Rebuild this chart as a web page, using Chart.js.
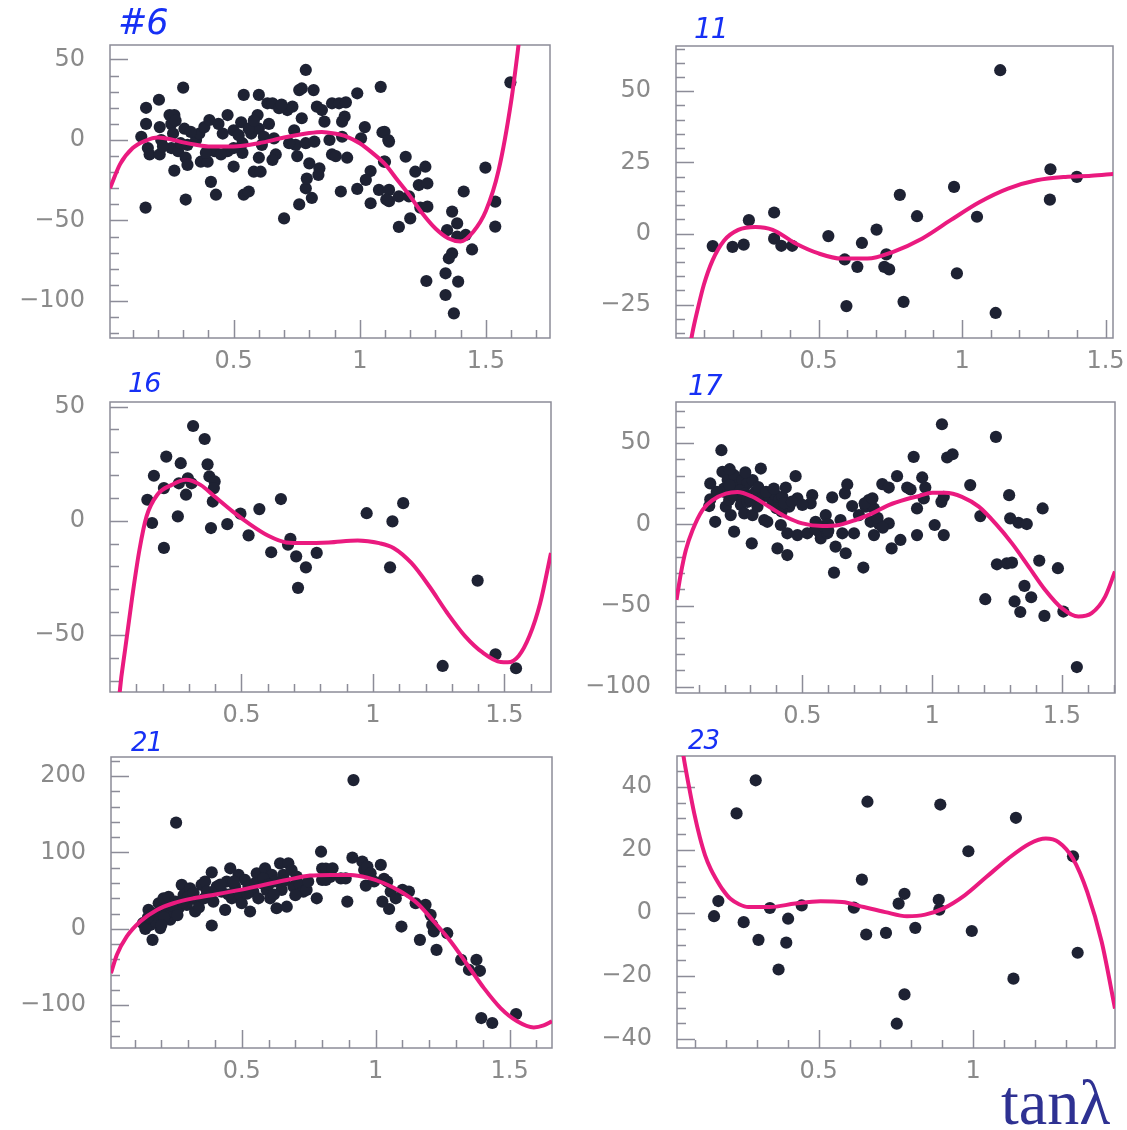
<!DOCTYPE html>
<html><head><meta charset="utf-8">
<script src="https://cdn.jsdelivr.net/npm/chart.js@4.4.1/dist/chart.umd.min.js"></script>
<style>
body{margin:0;background:#fff;width:1127px;height:1130px;position:relative;overflow:hidden;}
canvas{position:absolute;}
.tag{position:absolute;color:#1630f5;font-family:'DejaVu Sans';font-style:italic;line-height:1;letter-spacing:-1px;white-space:nowrap;}
#axisname{position:absolute;left:1001px;top:1071px;font-family:'Liberation Serif';font-size:64px;color:#2e3192;line-height:1;white-space:nowrap;}
</style></head><body>
<div id="wrap"></div>
<div id="axisname">tanλ</div>
<script>
// ---------- Panel #6 ----------
const p1X = [0.134,0.153,0.153,0.151,0.16,0.167,0.204,0.207,0.207,0.213,0.246,0.265,0.253,0.26,0.253,0.265,0.28,0.30,0.305,0.31,0.317,0.31,0.317,0.351,0.364,0.37,0.384,0.397,0.404,0.41,0.43,0.424,0.457,0.476,0.476,0.5,0.5,0.53,0.535,0.54,0.535,0.54,0.56,0.57,0.58,0.6,0.595,0.6,0.6,0.607,0.612,0.634,0.64,0.654,0.667,0.654,0.68,0.7,0.713,0.733,0.74,0.746,0.752,0.76,0.76,0.77,0.786,0.77,0.786,0.786,0.79,0.8,0.81,0.817,0.82,0.83,0.84,0.836,0.85,0.86,0.88,0.89,0.89,0.918,0.945,0.94,0.93,0.93,0.925,0.99,1.083,1.02,1.005,1.09,1.116,1.096,1.043,1.024,0.99,1.043,1.076,1.116,1.116,1.155,1.182,1.195,1.155,1.2,1.22,1.26,1.234,1.268,1.24,1.268,1.264,1.366,1.386,1.346,1.386,1.412,1.42,1.445,1.366,1.353,1.34,1.39,1.34,1.373,1.498,1.537,1.537,1.597,0.22,0.29,0.33,0.45,0.52,0.56,0.62,0.66,0.72,0.5,0.44,0.39,0.27,0.58,0.69,0.905,0.95,1.098,1.113,1.1,1.105];
const p1Y = [2,20,10,-42,-5,-9,25,8,-9,0,15.5,15.5,10,4,-5,-19,-7,32.5,7,-11,-3,-37,-15.5,0,4,-13.5,8,-13.5,12.4,-26,-34,-7,4,15.5,-7,-16.5,6,11,-2,28,-8,-34,-32,4,-19.7,28,15.5,7,-11,-19.7,-3,22.8,10,22.8,-9,-12.4,19.7,-48.7,18.6,20.7,6,-3,-10,-40,31,32,43.5,13.5,-2,-30,-24,-14.5,-36,31,-1,20.7,-17.6,-21.7,18.6,11.4,0,22.8,-9,22.8,23.4,14.5,11.4,2,-32,29,33,8,1,4.8,-1,-13.5,-19.3,-24.8,-30.4,-39.3,-31,-31,-38,-35,-10.4,-35,-54,-48.7,-19.7,-16.6,-28,-27,-42,-41.4,-87.6,-44.5,-51.8,-56,-60,-32,-59,-68,-70.4,-73.5,-82.8,-88,-96.3,-107.7,-17.2,-38.3,-53.8,35.8,-4,-2,5,-9,3,7,2,1,-2,-5,10,-8,12,12,22,-10,-11,5,0,-13.5,-37];
const fit1X = [0.01,0.05,0.1,0.15,0.2,0.25,0.3,0.35,0.4,0.5,0.6,0.7,0.8,0.85,0.9,0.95,1.0,1.05,1.1,1.15,1.2,1.25,1.3,1.35,1.4,1.45,1.5,1.55,1.6,1.63,1.66];
const fit1Y = [-30,-15,-5,-0.5,1.5,0.5,-1.5,-3,-4,-4,-2,1.5,4.3,5,4,2,-2,-8,-15,-25,-35,-46,-55,-61,-63,-57,-44,-19,24,60,100];

// ---------- Panel 11 ----------
const p2X = [0.131,0.2,0.239,0.257,0.345,0.345,0.37,0.408,0.534,0.591,0.597,0.635,0.651,0.702,0.729,0.736,0.746,0.783,0.796,0.843,0.972,0.982,1.052,1.117,1.133,1.306,1.308,1.4];
const p2Y = [-4.4,-4.7,-3.9,4.7,7.4,-1.8,-4.3,-4.3,-0.9,-9.1,-25.5,-11.7,-3.3,1.4,-11.7,-7.3,-12.6,13.6,-24,6.1,16.4,-14,5.9,-27.9,57.4,11.9,22.6,19.9];
const fit2X = [0.04,0.06,0.08,0.1,0.13,0.17,0.22,0.28,0.34,0.42,0.5,0.58,0.67,0.76,0.86,0.96,1.06,1.16,1.26,1.36,1.45,1.53];
const fit2Y = [-47,-35,-26,-18,-9.5,-2.5,1.3,2.3,1.3,-3.5,-7,-8.8,-8.8,-6.4,-1.8,4.7,11,15.8,18.7,19.9,20.3,21];

// ---------- Panel 16 ----------
const p3X = [0.142,0.16,0.167,0.205,0.205,0.214,0.258,0.262,0.269,0.289,0.296,0.31,0.316,0.36,0.371,0.378,0.391,0.384,0.398,0.395,0.446,0.496,0.527,0.568,0.613,0.65,0.677,0.686,0.708,0.715,0.745,0.786,0.976,1.065,1.074,1.115,1.265,1.398,1.466,1.544];
const p3Y = [9.2,-1,19.7,14.3,-11.9,28.1,1.9,16.4,25.2,11.4,18.6,16.4,41.5,35.8,24.7,19.4,8.4,-3.2,17.2,14.3,-1.5,3.1,-6.4,5.1,-13.8,9.5,-10.5,-7.9,-15.6,-29.4,-20.4,-14.1,3.3,-20.4,-0.3,7.7,-63.6,-26.2,-58.5,-64.6];
const fit3X = [0.025,0.037,0.058,0.085,0.112,0.139,0.18,0.235,0.289,0.344,0.398,0.466,0.534,0.602,0.67,0.738,0.833,0.942,1.024,1.078,1.146,1.214,1.282,1.35,1.418,1.486,1.513,1.554,1.595,1.636,1.677];
const fit3Y = [-95,-75,-56,-33,-12.7,1.9,11.4,15.7,17.9,15.7,10.6,4.1,-1.7,-6.6,-9.5,-9.8,-9.5,-8.6,-9.8,-11.9,-18.5,-28.7,-40.3,-50.5,-57.8,-61.9,-62,-59.2,-50.5,-36,-14.1];

// ---------- Panel 17 ----------
const p4X = [0.188,0.145,0.145,0.141,0.164,0.192,0.198,0.212,0.205,0.218,0.224,0.237,0.237,0.25,0.256,0.269,0.263,0.276,0.288,0.288,0.308,0.308,0.305,0.32,0.327,0.34,0.346,0.353,0.365,0.372,0.385,0.397,0.404,0.41,0.417,0.423,0.436,0.442,0.442,0.449,0.474,0.481,0.481,0.519,0.538,0.532,0.551,0.564,0.571,0.59,0.596,0.615,0.622,0.628,0.654,0.647,0.664,0.673,0.667,0.692,0.699,0.718,0.735,0.744,0.756,0.763,0.776,0.776,0.795,0.808,0.833,0.833,0.844,0.865,0.878,0.904,0.917,0.929,0.942,0.942,0.962,0.968,0.974,1.01,1.036,1.038,1.045,1.058,1.079,1.045,1.147,1.186,1.246,1.205,1.25,1.288,1.308,1.297,1.301,1.333,1.365,1.356,1.382,1.318,1.34,1.413,1.426,1.433,1.485,1.506,1.558,0.2,0.22,0.23,0.26,0.28,0.3,0.33,0.36,0.39,0.4,0.42,0.43,0.46,0.5,0.55,0.58,0.6,0.74,0.77,0.79,0.81,0.6,0.17,0.22,0.28];
const p4Y = [45.7,25.2,15.4,11.3,1.6,32.4,22.1,27.3,10.9,15,5.7,30.3,-4.5,24.2,17,27.3,11.9,6.8,25.2,13.9,27.3,5.7,-11.7,20.1,10.9,34.4,17,2.7,1.6,17,12.9,18,-14.8,15,-0.4,17,22.7,-18.9,-5.5,10.9,29.7,16,-6.6,-5.5,18,12.9,1.6,-4.5,-8.6,5.7,-5.5,16.6,-29.7,-13.7,-5.5,2.7,19.1,24.6,-17.8,11.3,-5.5,5.7,-26.6,10.9,15,1.6,9.8,-6.6,0.2,24.8,22.7,0.6,-14.8,29.7,-9.6,22.7,21.5,41.6,9.8,-6.6,28.9,16,22.7,-0.4,13.9,61.7,-6.6,41.2,43.2,17,24.2,5.1,53.9,-46.1,-24.6,-24,-23.6,18,3.7,1,0.2,-37.9,-44.9,-47.5,-54,-22.3,9.8,-56.4,-27,-53.7,-87.9,20,24,18,21,19,15,23,20,22,10,8,13,14,12,-3,-1,0,13,16,4,-2,-4,20,34,32];
const fit4X = [0.015,0.032,0.051,0.077,0.115,0.154,0.205,0.25,0.308,0.372,0.436,0.5,0.577,0.641,0.705,0.769,0.833,0.9,0.95,1.0,1.051,1.115,1.18,1.244,1.308,1.372,1.436,1.5,1.564,1.615,1.667,1.705];
const fit4Y = [-46.5,-30,-15.8,-3.5,8.8,15,19,20,17,10.9,4.7,0.6,-1,-0.4,2.7,6.8,11.9,15.5,17.5,19.5,19.5,17,10.9,0.6,-11.7,-26,-40.4,-51.6,-56.8,-54.7,-44.5,-29.1];

// ---------- Panel 21 ----------
const p5X = [0.255,0.796,0.78,0.8,0.814,0.83,0.8,0.814,0.131,0.152,0.167,0.158,0.177,0.19,0.196,0.202,0.208,0.22,0.227,0.233,0.239,0.252,0.264,0.276,0.283,0.295,0.307,0.314,0.326,0.338,0.35,0.363,0.37,0.375,0.388,0.388,0.394,0.407,0.425,0.438,0.444,0.457,0.463,0.475,0.488,0.494,0.5,0.512,0.525,0.531,0.543,0.556,0.562,0.575,0.587,0.593,0.606,0.612,0.624,0.63,0.643,0.649,0.655,0.668,0.674,0.686,0.693,0.705,0.717,0.73,0.742,0.748,0.917,0.913,0.839,0.87,0.888,0.894,0.95,0.957,0.969,0.981,0.963,0.994,1.019,1.031,1.043,1.025,1.056,1.05,1.075,1.1,1.124,1.096,1.149,1.186,1.205,1.211,1.217,1.165,1.227,1.267,1.319,1.348,1.376,1.389,1.394,1.435,1.524,0.17,0.18,0.21,0.24,0.26,0.28,0.3,0.32,0.34,0.36,0.4,0.42,0.45,0.47,0.52,0.55,0.58,0.6,0.62,0.66,0.7,0.2,0.15,0.14];
const p5Y = [139,101,40,79,79,68,64,64,7.4,25,-14.4,5,14,33.5,1,22.7,40,29,42,12,22.7,35.7,27,57.5,44.4,31.4,53,40,22.7,35.7,57.5,62,48.8,42.3,74,4.4,35.7,55.3,48.8,24.8,62,79.3,40,55.3,70.6,44.4,33.5,64,55.3,22.7,48.8,72.8,40,59.7,79.3,51,40,70.6,62,27,85.8,51,70.6,29,85.8,77,55.3,68.4,57.5,48.8,51,62,194.8,93.2,79.3,66,66,35.7,88,77,81.5,72.8,56.6,62,83.7,65.4,62,35.7,48.8,26,40,51,48.8,3,33.5,31.4,18.3,5.2,-3.5,-14.4,-27.5,-5.7,-40.5,-53.6,-40.5,-54.9,-116.8,-123.3,-111.5,20,9,15,30,18,35,42,47,28,40,50,58,45,62,46,60,66,58,45,63,44,5,15,0];
const fit5X = [0.012,0.034,0.071,0.121,0.183,0.245,0.32,0.407,0.494,0.581,0.668,0.755,0.832,0.907,0.969,1.031,1.093,1.155,1.217,1.28,1.342,1.404,1.466,1.528,1.59,1.627,1.658];
const fit5Y = [-58,-34,-10,9.6,24.8,33.5,40,45.3,51,57.5,64,69.7,70.6,70.6,67,59.7,48.8,33.5,9.6,-16.6,-47,-77.6,-103.7,-121,-129,-126.4,-121];

// ---------- Panel 23 ----------
const p6X = [0.161,0.175,0.234,0.257,0.296,0.305,0.342,0.37,0.395,0.401,0.445,0.614,0.64,0.654,0.658,0.718,0.753,0.759,0.778,0.778,0.813,0.889,0.891,0.894,0.985,0.996,1.131,1.139,1.324,1.339];
const p6Y = [-1,3.8,31.6,-2.9,42.1,-8.5,1.6,-17.9,-9.4,-1.8,2.4,1.7,10.6,-6.8,35.3,-6.3,-35.1,3,6.1,-25.8,-4.7,4.2,1.1,34.4,19.6,-5.7,-20.8,30.2,18,-12.6];
const fit6X = [0.045,0.062,0.08,0.097,0.115,0.132,0.15,0.167,0.19,0.214,0.242,0.272,0.342,0.424,0.506,0.576,0.646,0.716,0.786,0.845,0.903,0.973,1.043,1.113,1.183,1.236,1.277,1.324,1.37,1.417,1.46];
const fit6Y = [62,49.8,40,31.5,24,18.3,14,10.9,7.3,4.5,2.8,1.9,1.9,3,3.7,3.5,1.9,0.3,-1,-0.5,1.4,5.6,11.4,17.2,22,23.6,22.5,17.2,6.7,-9.2,-30.3];

// ---------- tick labels ----------
const xTickLabels = [0.5, 1, 1.5];
const yLabels6 = [-100, -50, 0, 50];
const yLabels11 = [-25, 0, 25, 50];
const yLabels16 = [-50, 0, 50];
const yLabels17 = [-100, -50, 0, 50];
const yLabels21 = [-100, 0, 100, 200];
const yLabels23 = [-40, -20, 0, 20, 40];
const panelTags = ['#6', '11', '16', '17', '21', '23'];

const panels = [
  {L:110,T:45,R:550,B:338, xMin:0.01,xMax:1.754, yMin:-123,yMax:59, yStep:10, yLabels:yLabels6, px:p1X,py:p1Y,fx:fit1X,fy:fit1Y, tag:{x:118,y:5,s:35}},
  {L:676,T:46,R:1113,B:338, xMin:0.003,xMax:1.526, yMin:-36.7,yMax:65.9, yStep:5, yLabels:yLabels11, px:p2X,py:p2Y,fx:fit2X,fy:fit2Y, tag:{x:694,y:15,s:28}},
  {L:110,T:402,R:551,B:692, xMin:0,xMax:1.677, yMin:-75,yMax:52, yStep:10, yLabels:yLabels16, px:p3X,py:p3Y,fx:fit3X,fy:fit3Y, tag:{x:128,y:369,s:27}},
  {L:676,T:402,R:1115,B:693, xMin:0.013,xMax:1.705, yMin:-103.9,yMax:75.4, yStep:10, yLabels:yLabels17, px:p4X,py:p4Y,fx:fit4X,fy:fit4Y, tag:{x:688,y:372,s:28}},
  {L:111,T:757,R:552,B:1048, xMin:0.012,xMax:1.658, yMin:-156,yMax:225, yStep:20, yLabels:yLabels21, px:p5X,py:p5Y,fx:fit5X,fy:fit5Y, tag:{x:131,y:729,s:26}},
  {L:677,T:756,R:1115,B:1048, xMin:0.041,xMax:1.46, yMin:-42.8,yMax:49.8, yStep:5, yLabels:yLabels23, px:p6X,py:p6Y,fx:fit6X,fy:fit6Y, tag:{x:688,y:727,s:26}}
];

function makeFrameTicks(info) {
  return {
    id: 'frameTicks',
    beforeDatasetsDraw(chart) {
      const {ctx, chartArea: a, scales: {x, y}} = chart;
      ctx.save();
      ctx.strokeStyle = '#8c8c98';
      ctx.lineWidth = 1.5;
      ctx.strokeRect(a.left, a.top, a.right - a.left, a.bottom - a.top);
      ctx.beginPath();
      y.ticks.forEach(t => {
        const py = Math.round(y.getPixelForValue(t.value)) + 0.5;
        const len = info.yLabels.includes(t.value) ? 18 : 9;
        ctx.moveTo(a.left, py); ctx.lineTo(a.left + len, py);
      });
      x.ticks.forEach(t => {
        const px = Math.round(x.getPixelForValue(t.value)) + 0.5;
        const len = xTickLabels.includes(t.value) ? 18 : 8;
        ctx.moveTo(px, a.bottom); ctx.lineTo(px, a.bottom - len);
      });
      ctx.stroke();
      ctx.restore();
    }
  };
}

const tickFont = {family: "'DejaVu Sans'", size: 24};
const wrap = document.getElementById('wrap');

panels.forEach((p, i) => {
  const padL = 110, padT = 10, padR = 12, padB = 40;
  const W = (p.R - p.L) + padL + padR, H = (p.B - p.T) + padT + padB;
  const cv = document.createElement('canvas');
  cv.width = W; cv.height = H;
  cv.style.left = (p.L - padL) + 'px';
  cv.style.top = (p.T - padT) + 'px';
  cv.style.width = W + 'px'; cv.style.height = H + 'px';
  wrap.appendChild(cv);

  const tg = document.createElement('div');
  tg.className = 'tag';
  tg.textContent = panelTags[i];
  tg.style.left = p.tag.x + 'px'; tg.style.top = p.tag.y + 'px'; tg.style.fontSize = p.tag.s + 'px';
  document.body.appendChild(tg);

  const xTicks = [];
  for (let k = Math.ceil(p.xMin * 10 - 1e-9); k <= Math.floor(p.xMax * 10 + 1e-9); k++) if (k > 0) xTicks.push(k / 10);
  const yTicks = [];
  for (let v = Math.ceil(p.yMin / p.yStep) * p.yStep; v <= p.yMax; v += p.yStep) yTicks.push(v);

  new Chart(cv, {
    type: 'scatter',
    data: {
      datasets: [
        {
          data: p.fx.map((v, k) => ({x: v, y: p.fy[k]})),
          showLine: true, pointRadius: 0, borderColor: '#ea1a7f', borderWidth: 4,
          cubicInterpolationMode: 'monotone', fill: false, clip: 0
        },
        {
          data: p.px.map((v, k) => ({x: v, y: p.py[k]})),
          pointRadius: 6.1, pointBackgroundColor: '#1e2233', pointBorderWidth: 0, showLine: false
        }
      ]
    },
    options: {
      responsive: false, animation: false, devicePixelRatio: 1,
      layout: {padding: {left: 0, top: padT, right: padR, bottom: 0}},
      plugins: {legend: {display: false}, tooltip: {enabled: false}},
      scales: {
        x: {
          type: 'linear', min: p.xMin, max: p.xMax,
          grid: {display: false, drawTicks: false}, border: {display: false},
          afterBuildTicks: s => { s.ticks = xTicks.map(v => ({value: v})); },
          afterFit: s => { s.height = padB; s.paddingLeft = 0; s.paddingRight = 0; },
          ticks: {
            autoSkip: false, maxRotation: 0, minRotation: 0, padding: 9,
            color: '#8a8a8a', font: tickFont,
            callback: v => xTickLabels.includes(v) ? String(v) : ''
          }
        },
        y: {
          type: 'linear', min: p.yMin, max: p.yMax,
          grid: {display: false, drawTicks: false}, border: {display: false},
          afterBuildTicks: s => { s.ticks = yTicks.map(v => ({value: v})); },
          afterFit: s => { s.width = padL; s.paddingTop = 0; s.paddingBottom = 0; },
          ticks: {
            autoSkip: false, padding: 25,
            color: '#8a8a8a', font: tickFont,
            callback: v => p.yLabels.includes(v) ? (v < 0 ? '\u2212' + (-v) : String(v)) : ''
          }
        }
      }
    },
    plugins: [makeFrameTicks(p)]
  });
});
</script>
</body></html>
